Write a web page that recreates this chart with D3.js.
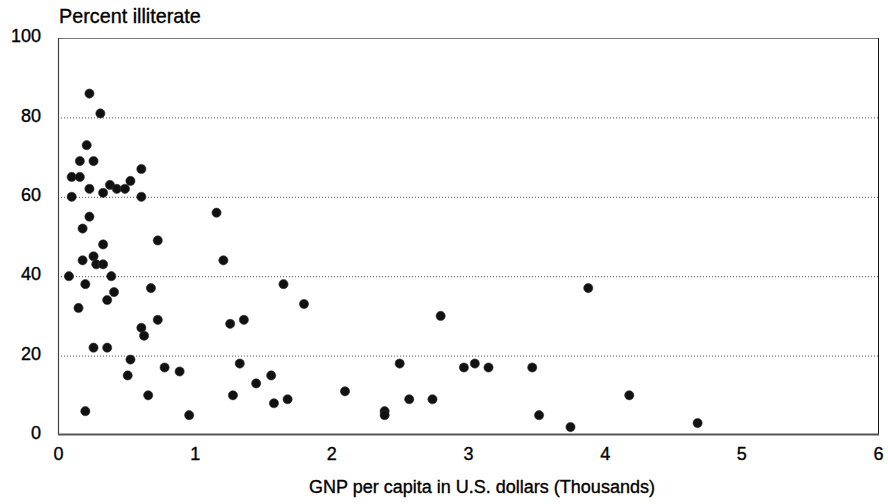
<!DOCTYPE html>
<html><head><meta charset="utf-8">
<script src="https://cdn.jsdelivr.net/npm/d3@7"></script>
<style>
body{margin:0;background:#fff;}
text{font-family:"Liberation Sans",Arial,sans-serif;fill:#000;stroke:#000;stroke-width:0.35px;}
</style></head>
<body><svg id="c" width="888" height="504"></svg>
<script>
const gnp = [0.08,0.10,0.10,0.16,0.16,0.15,0.18,0.18,0.21,0.20,0.20,0.23,0.23,0.23,0.26,0.26,0.26,0.28,0.31,0.33,0.33,0.33,0.36,0.36,0.38,0.39,0.41,0.43,0.49,0.51,0.53,0.53,0.61,0.61,0.61,0.63,0.66,0.68,0.73,0.73,0.78,0.89,0.96,1.16,1.21,1.26,1.28,1.33,1.36,1.45,1.56,1.58,1.65,1.68,1.80,2.10,2.39,2.39,2.50,2.57,2.74,2.80,2.97,3.05,3.15,3.47,3.52,3.75,3.88,4.18,4.68];
const illiterate = [40,65,60,65,69,32,52,44,73,38,6,86,62,55,69,45,22,43,81,61,48,43,34,22,63,40,36,62,62,15,19,64,67,60,27,25,10,37,49,29,17,16,5,56,44,28,10,18,29,13,15,8,38,9,33,11,6,5,18,9,9,30,17,18,17,17,5,2,37,10,3];
const xTicks = [0,1,2,3,4,5,6];
const yTicks = [0,20,40,60,80,100];
const yTitle = "Percent illiterate";
const xTitle = "GNP per capita in U.S. dollars (Thousands)";

const svg = d3.select("#c");
const L=58, R=878, T=38, B=435;
const x = d3.scaleLinear().domain([0,6]).range([L,R]);
const y = d3.scaleLinear().domain([0,100]).range([B,T]);

// gridlines
svg.append("g").selectAll("line").data(yTicks.filter(d=>d>0&&d<100)).join("line")
  .attr("x1",L).attr("x2",R).attr("y1",d=>y(d)+0.5).attr("y2",d=>y(d)+0.5)
  .attr("stroke","#555").attr("stroke-width",1).attr("stroke-dasharray","1,2");

// frame
svg.append("line").attr("x1",L).attr("x2",R).attr("y1",T+0.5).attr("y2",T+0.5).attr("stroke","#777").attr("stroke-width",1.2);
svg.append("line").attr("x1",L+0.5).attr("x2",L+0.5).attr("y1",T).attr("y2",B).attr("stroke","#444").attr("stroke-width",1.2);
svg.append("line").attr("x1",R+0.5).attr("x2",R+0.5).attr("y1",T).attr("y2",B).attr("stroke","#111").attr("stroke-width",1);
svg.append("line").attr("x1",L).attr("x2",R+1).attr("y1",B-0.5).attr("y2",B-0.5).attr("stroke","#555").attr("stroke-width",2);

// axes labels
const xa = svg.append("g").attr("transform",`translate(0,${B})`)
  .call(d3.axisBottom(x).tickValues(xTicks).tickSize(0).tickPadding(8).tickFormat(d3.format("d")));
xa.select(".domain").remove();
xa.selectAll("text").attr("font-size",18).attr("font-family","Liberation Sans, Arial, sans-serif").attr("fill","#000").attr("dy","0.95em");

const ya = svg.append("g").attr("transform",`translate(${L},0)`)
  .call(d3.axisLeft(y).tickValues(yTicks).tickSize(0).tickPadding(17).tickFormat(d3.format("d")));
ya.select(".domain").remove();
ya.selectAll("text").attr("font-size",18).attr("font-family","Liberation Sans, Arial, sans-serif").attr("fill","#000").attr("dy","0.2em");

svg.append("text").attr("x",L+1).attr("y",23).attr("font-size",19.8).text(yTitle);
svg.append("text").attr("x",(L+R)/2+14).attr("y",493).attr("font-size",18).attr("text-anchor","middle").text(xTitle);

// points
svg.append("g").selectAll("circle").data(gnp.map((g,i)=>[g,illiterate[i]])).join("circle")
  .attr("cx",d=>x(d[0])).attr("cy",d=>y(d[1])).attr("r",4.6)
  .attr("fill","#111").attr("stroke","#333").attr("stroke-width",0.6);
</script></body></html>
